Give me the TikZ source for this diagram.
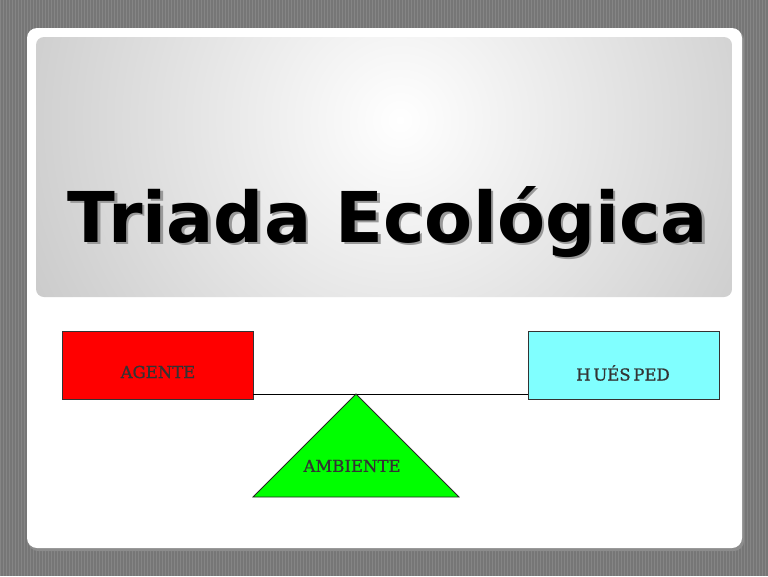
\documentclass[tikz,border=0pt]{standalone}
\usepackage{fontspec}
\newfontfamily\titlefont{DejaVu Sans}
\newfontfamily\labelfont[FakeBold=0.9]{DejaVu Serif}
\definecolor{bggray}{HTML}{767676}
\definecolor{stripe}{HTML}{858585}
\definecolor{agentred}{HTML}{FF0000}
\definecolor{huescyan}{HTML}{80FFFF}
\definecolor{ambgreen}{HTML}{00FF00}
\definecolor{panelgray}{HTML}{9E9E9E}
\tikzset{
  box/.style={draw=black!80, line width=0.8pt, minimum width=191pt, minimum height=68pt, inner sep=0pt},
  lbl/.style={font=\labelfont\fontsize{16.5}{16.5}\selectfont, text=black!80},
}
\newcommand{\titletext}{\resizebox{640pt}{!}{\titlefont\bfseries Triada Ecológica}}
\begin{document}
\begin{tikzpicture}[x=1pt,y=-1pt]
\useasboundingbox (0,0) rectangle (768,576);
% background
\fill[bggray] (0,0) rectangle (768,576);
\foreach \i in {0,3,...,768} {\draw[stripe, line width=0.6pt] (\i,0) -- (\i,576);}
% outer white card with shadow
\fill[black!45, rounded corners=10pt] (28,30) rectangle (744,551);
\fill[white, rounded corners=10pt] (27,28) rectangle (742,548);
% gradient panel
\begin{scope}
\clip[rounded corners=8pt] (36,37) rectangle (732,297);
\shade[inner color=white, outer color=panelgray] (400,120) circle (760);
\end{scope}
% title with soft shadow (one node)
\node[inner sep=0pt] (title) at (388,223) {\makebox[0pt][l]{\raisebox{-2.5pt}{\hspace*{2.5pt}\color{black!40}\titletext}}\titletext};
% beam
\coordinate (apex) at (356,394);
\node[box, fill=agentred] (agente) at (157.5,365) {};
\node[box, fill=huescyan] (huesped) at (623.5,365) {};
\draw[black, line width=0.9pt] (agente.east |- apex) -- (huesped.west |- apex);
% triangle
\coordinate (bl) at (253,497);
\coordinate (br) at (459,497);
\draw[black!85, line width=0.8pt, fill=ambgreen] (apex) -- (br) -- (bl) -- cycle;
% labels
\node[lbl] (agentetxt) at (158,372) {AGENTE};
\node[lbl] (huesptxt) at (623,373) {H\,UÉS\,PED};
\node[lbl] (ambtxt) at (352,466) {AMBIENTE};
\end{tikzpicture}
\end{document}
